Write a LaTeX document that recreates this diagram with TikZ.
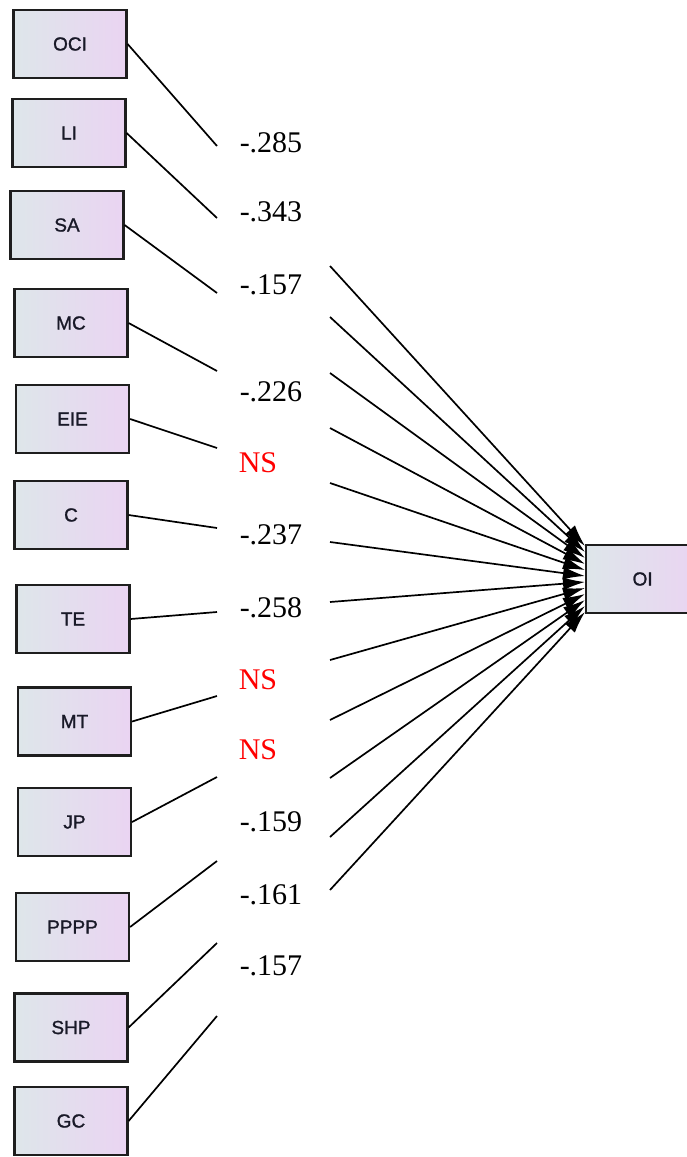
\documentclass[tikz,border=0pt]{standalone}
\usepackage{fontspec}
\setmainfont{Liberation Serif}
\newfontfamily\boxfont[FakeBold=1.2]{Liberation Sans}
\usetikzlibrary{arrows.meta}
\definecolor{boxL}{RGB}{222,230,234}
\definecolor{boxR}{RGB}{234,212,242}
\definecolor{boxline}{RGB}{30,30,30}
\definecolor{nsred}{RGB}{255,0,0}
\definecolor{boxtext}{RGB}{25,25,40}
\tikzset{
  varbox/.style={draw=boxline, line width=2.2pt, left color=boxL, right color=boxR,
    minimum width=113pt, minimum height=68pt, inner sep=0pt,
    font=\boxfont\fontsize{19}{19}\selectfont, text=boxtext},
  coef/.style={font=\fontsize{30}{30}\selectfont, inner sep=0pt, text=black},
  nslabel/.style={coef, text=nsred},
  conn/.style={line width=1.7pt, black},
  arr/.style={conn, -{Latex[length=22pt,width=13pt]}},
}
\begin{document}
\begin{tikzpicture}[x=1pt,y=-1pt]
\useasboundingbox (0,0) rectangle (687,1157);
\clip (0,0) rectangle (687,1157);
\fill[white] (0,0) rectangle (687,1157);
% target box
\node[varbox, anchor=west] (OI) at (585,579) {OI};
% predictors: index/name/x/y/leftend y/label/label x/label y/style/right start y
\foreach \i/\txt/\bx/\by/\ay/\lab/\lx/\ly/\sty/\sy in {
  1/OCI/70/44/146/-.285/271/143/coef/266,
  2/LI/69/133/218/-.343/271/212/coef/317,
  3/SA/67/225/293/-.157/271/285/coef/373,
  4/MC/71/323/371/-.226/271/392/coef/428,
  5/EIE/72.5/419/448/NS/258/463/nslabel/483,
  6/C/71/515/528/-.237/271/535/coef/542,
  7/TE/73/619/612/-.258/271/608/coef/602,
  8/MT/74.5/721.5/696/NS/258/680/nslabel/660,
  9/JP/74.5/822/777/NS/258/750/nslabel/720,
  10/PPPP/72.5/927/861/-.159/271/822/coef/778,
  11/SHP/71/1027.5/943/-.161/271/895/coef/837,
  12/GC/71/1121/1016/-.157/271/966/coef/890}
{
  \node[varbox] (b\i) at (\bx,\by) {\txt};
  \node[\sty] (l\i) at (\lx,\ly) {\lab};
  \coordinate (a\i) at (217,\ay);
  \coordinate (s\i) at (330,\sy);
  \pgfmathsetmacro{\ty}{540+\i*6}
  \coordinate (t\i) at (585,\ty);
  \draw[conn] (b\i.east) -- (a\i);
  \draw[arr] (s\i) -- (t\i);
}
\end{tikzpicture}
\end{document}
